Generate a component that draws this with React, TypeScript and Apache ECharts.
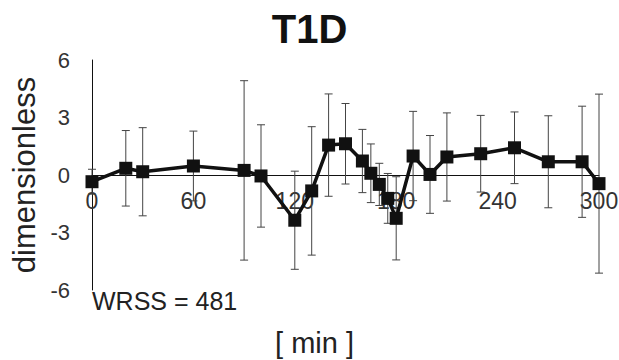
import React, { useEffect, useRef } from "react";
import * as echarts from "echarts";

const times = [0, 20, 30, 60, 90, 100, 120, 130, 140, 150, 160, 165, 170, 175, 180, 190, 200, 210, 230, 250, 270, 290, 300];
const values = [-0.35, 0.35, 0.17, 0.47, 0.24, -0.05, -2.36, -0.83, 1.56, 1.63, 0.73, 0.09, -0.49, -1.22, -2.26, 0.99, 0.03, 0.94, 1.11, 1.42, 0.69, 0.69, -0.45];
const errors = [0.65, 1.97, 2.3, 1.82, 4.68, 2.67, 2.56, 3.35, 2.67, 2.1, 1.65, 1.53, 1.1, 1.3, 2.17, 2.33, 2.03, 2.3, 2.0, 1.87, 2.4, 2.9, 4.67];
const titleText = "T1D";
const yName = "dimensionless";
const xName = "[ min ]";
const noteText = "WRSS = 481";

export default function App() {
  const ref = useRef<HTMLDivElement>(null);
  useEffect(() => {
    if (!ref.current) return;
    const chart = echarts.init(ref.current, null, { renderer: "svg" });
    const font = "Liberation Sans, Arial, sans-serif";
    const points = times.map((t, i) => [t, values[i]]);
    const errData = times.map((t, i) => [t, values[i] - errors[i], values[i] + errors[i]]);
    chart.setOption({
      animation: false,
      title: {
        text: titleText,
        left: "center",
        top: 4,
        textStyle: { fontFamily: font, fontSize: 40, fontWeight: "bold", color: "#111" },
      },
      grid: { left: 92, right: 20, top: 60, bottom: 70, containLabel: false, outerBoundsMode: "none" },
      xAxis: {
        type: "value",
        min: 0,
        max: 300,
        interval: 60,
        position: "bottom",
        offset: -115,
        name: xName,
        nameLocation: "middle",
        nameGap: 153,
        nameTextStyle: { fontFamily: font, fontSize: 29, color: "#222", padding: [0, 62, 0, 0] },
        axisLine: { onZero: false, lineStyle: { color: "#111", width: 1 } },
        axisTick: { show: false },
        splitLine: { show: false },
        axisLabel: { fontFamily: font, fontSize: 23, color: "#333", margin: 14 },
      },
      yAxis: {
        type: "value",
        min: -6,
        max: 6,
        interval: 3,
        name: yName,
        nameLocation: "middle",
        nameGap: 40,
        nameTextStyle: { fontFamily: font, fontSize: 31, color: "#222" },
        axisLine: { show: true, onZero: false, lineStyle: { color: "#111", width: 1 } },
        axisTick: { show: false },
        splitLine: { show: false },
        axisLabel: { fontFamily: font, fontSize: 22, color: "#333", margin: 22 },
      },
      graphic: [
        {
          type: "text",
          left: 92,
          top: 288,
          style: { text: noteText, fontFamily: font, fontSize: 25, fill: "#222" },
        },
      ],
      series: [
        {
          type: "custom",
          data: errData,
          z: 1,
          renderItem: (params: any, api: any) => {
            const x = api.value(0);
            const lo = api.coord([x, api.value(1)]);
            const hi = api.coord([x, api.value(2)]);
            const cap = 4;
            const style = { stroke: "#444", lineWidth: 1 };
            return {
              type: "group",
              children: [
                { type: "line", shape: { x1: lo[0], y1: lo[1], x2: hi[0], y2: hi[1] }, style },
                { type: "line", shape: { x1: lo[0] - cap, y1: lo[1], x2: lo[0] + cap, y2: lo[1] }, style },
                { type: "line", shape: { x1: hi[0] - cap, y1: hi[1], x2: hi[0] + cap, y2: hi[1] }, style },
              ],
            };
          },
        },
        {
          type: "line",
          data: points,
          z: 3,
          symbol: "rect",
          symbolSize: 13,
          lineStyle: { color: "#111", width: 3.5 },
          itemStyle: { color: "#111" },
        },
      ],
    });
    return () => chart.dispose();
  }, []);
  return <div ref={ref} style={{ width: 619, height: 360, position: "absolute", left: 0, top: 0, background: "#fff" }} />;
}
